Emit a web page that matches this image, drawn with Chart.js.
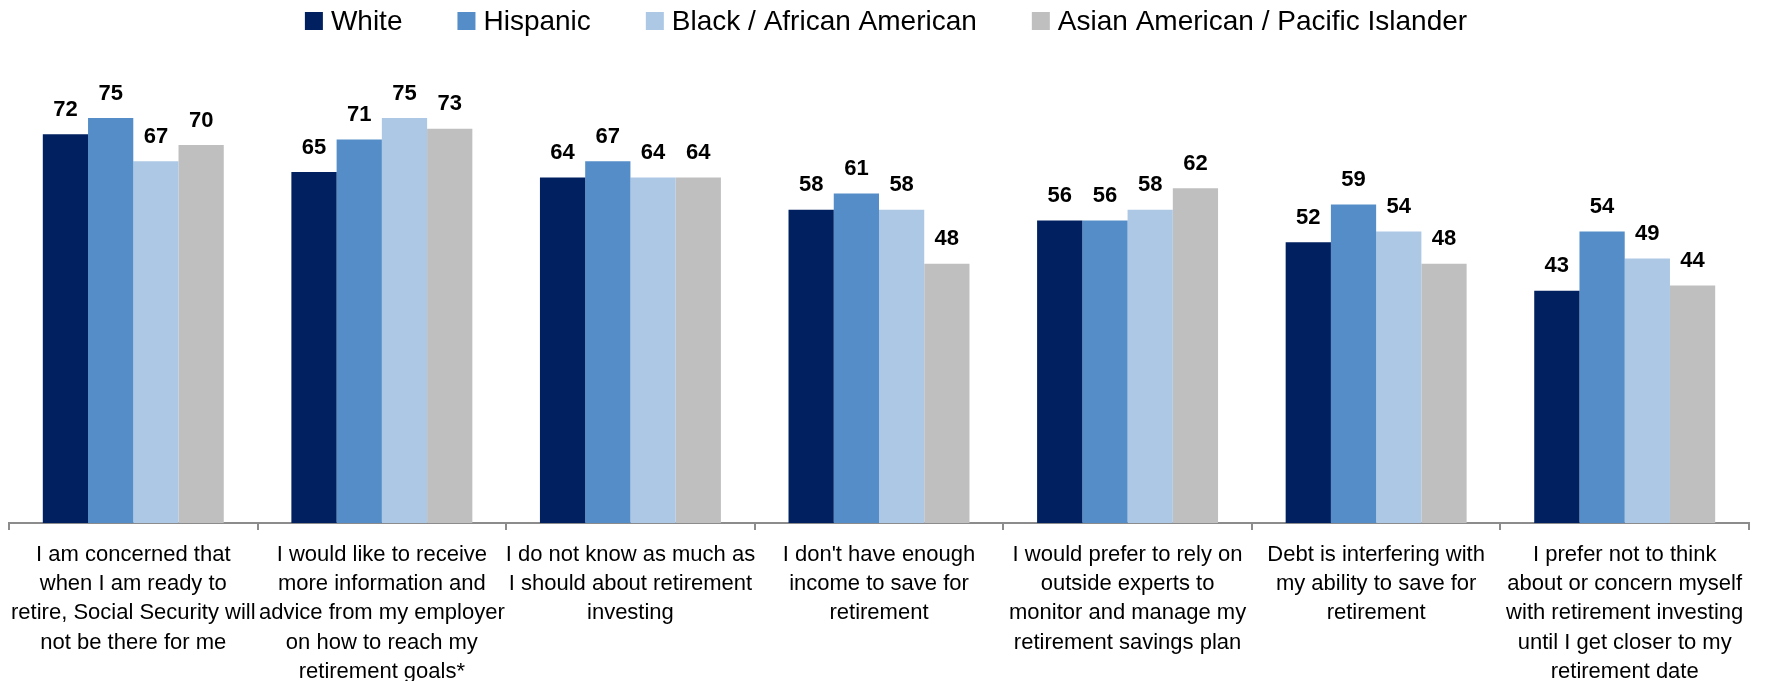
<!DOCTYPE html>
<html>
<head>
<meta charset="utf-8">
<script src="https://cdn.jsdelivr.net/npm/chart.js@4.4.0/dist/chart.umd.min.js"></script>
<style>
  html, body { margin: 0; padding: 0; background: #fff; }
  #wrap { width: 1766px; height: 681px; position: relative; }
</style>
</head>
<body>
<div id="wrap"><canvas id="chart"></canvas></div>
<script>
const categories = [
  ['I am concerned that', 'when I am ready to', 'retire, Social Security will', 'not be there for me'],
  ['I would like to receive', 'more information and', 'advice from my employer', 'on how to reach my', 'retirement goals*'],
  ['I do not know as much as', 'I should about retirement', 'investing'],
  ["I don't have enough", 'income to save for', 'retirement'],
  ['I would prefer to rely on', 'outside experts to', 'monitor and manage my', 'retirement savings plan'],
  ['Debt is interfering with', 'my ability to save for', 'retirement'],
  ['I prefer not to think', 'about or concern myself', 'with retirement investing', 'until I get closer to my', 'retirement date']
];

const seriesNames = ['White', 'Hispanic', 'Black / African American', 'Asian American / Pacific Islander'];
const whiteValues    = [72, 65, 64, 58, 56, 52, 43];
const hispanicValues = [75, 71, 67, 61, 56, 59, 54];
const blackValues    = [67, 75, 64, 58, 58, 54, 49];
const asianValues    = [70, 73, 64, 48, 62, 48, 44];
const seriesColors = ['#002060', '#548DC8', '#ADC8E5', '#BFBFBF'];

const FONT = '"Liberation Sans", Arial, sans-serif';

// value labels above each bar
const barLabels = {
  id: 'barLabels',
  afterDatasetsDraw(chart) {
    const ctx = chart.ctx;
    ctx.save();
    ctx.font = 'bold 22px ' + FONT;
    ctx.fillStyle = '#000';
    ctx.textAlign = 'center';
    ctx.textBaseline = 'alphabetic';
    chart.data.datasets.forEach((ds, i) => {
      chart.getDatasetMeta(i).data.forEach((bar, j) => {
        ctx.fillText(ds.data[j], bar.x, bar.y - 18.5);
      });
    });
    ctx.restore();
  }
};

// legend drawn across the top, centered
const topLegend = {
  id: 'topLegend',
  afterDraw(chart) {
    const ctx = chart.ctx;
    ctx.save();
    ctx.font = '28px ' + FONT;
    const box = 18, boxGap = 8, itemGap = 55;
    const widths = seriesNames.map(n => ctx.measureText(n).width);
    let total = widths.reduce((a, b) => a + b, 0) + seriesNames.length * (box + boxGap) + (seriesNames.length - 1) * itemGap;
    let x = 886 - total / 2;
    const cy = 21;
    ctx.textBaseline = 'middle';
    ctx.textAlign = 'left';
    seriesNames.forEach((n, i) => {
      ctx.fillStyle = seriesColors[i];
      ctx.fillRect(x, cy - box / 2, box, box);
      x += box + boxGap;
      ctx.fillStyle = '#000';
      ctx.fillText(n, x, cy + 1);
      x += widths[i] + itemGap;
    });
    ctx.restore();
  }
};

const allValues = [whiteValues, hispanicValues, blackValues, asianValues];

new Chart(document.getElementById('chart'), {
  type: 'bar',
  data: {
    labels: categories,
    datasets: allValues.map((vals, i) => ({
      label: seriesNames[i],
      data: vals,
      backgroundColor: seriesColors[i],
      borderWidth: 0,
      barPercentage: 1,
      categoryPercentage: 0.728
    }))
  },
  options: {
    responsive: true,
    maintainAspectRatio: false,
    animation: false,
    layout: { padding: { top: 91, left: 9, right: 17, bottom: 0 } },
    plugins: {
      legend: { display: false },
      tooltip: { enabled: false }
    },
    scales: {
      y: {
        display: false,
        min: 0,
        max: 80
      },
      x: {
        offset: true,
        grid: {
          display: true,
          offset: true,
          drawOnChartArea: false,
          drawTicks: true,
          tickLength: 7,
          color: '#8c8c8c',
          lineWidth: 2
        },
        border: { display: true, color: '#8c8c8c', width: 2 },
        ticks: {
          autoSkip: false,
          maxRotation: 0,
          minRotation: 0,
          padding: 10,
          color: '#000',
          font: { family: FONT, size: 22, lineHeight: 1.333 }
        },
        afterFit(scale) { scale.height = 158; }
      }
    }
  },
  plugins: [barLabels, topLegend]
});
</script>
</body>
</html>
